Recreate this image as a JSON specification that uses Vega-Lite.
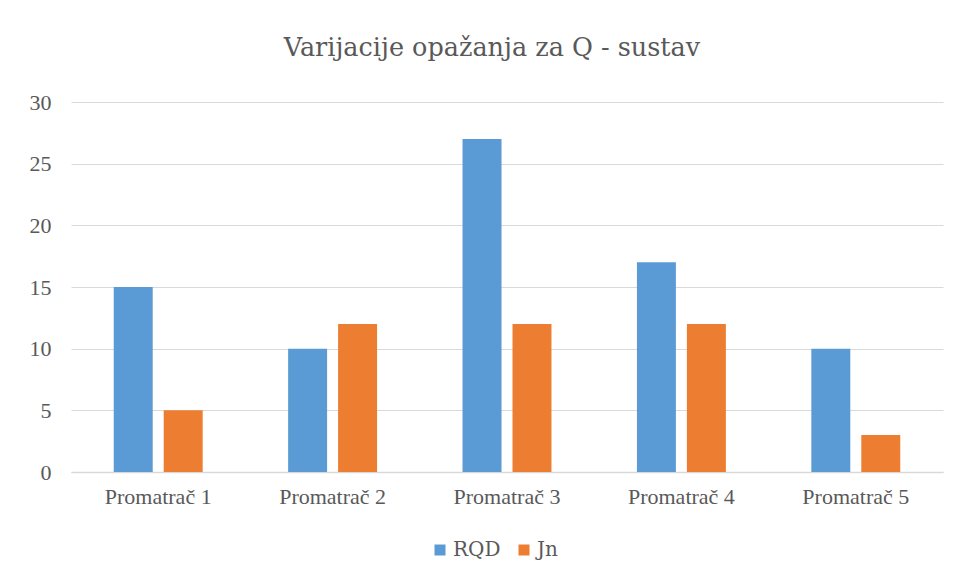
{
  "$schema": "https://vega.github.io/schema/vega-lite/v6.json",
  "width": 872,
  "height": 370,
  "autosize": {"type": "none"},
  "padding": {"left": 71, "top": 102, "right": 14, "bottom": 110},
  "background": "white",
  "title": {
    "text": "Varijacije  opažanja za Q - sustav",
    "font": "DejaVu Serif",
    "fontSize": 25.5,
    "fontWeight": "normal",
    "color": "#595959",
    "anchor": "middle",
    "frame": "group",
    "dx": -15,
    "offset": 30
  },
  "data": {
    "values": [
      {"obs": "Promatrač 1", "series": "RQD", "value": 15},
      {"obs": "Promatrač 1", "series": "Jn", "value": 5},
      {"obs": "Promatrač 2", "series": "RQD", "value": 10},
      {"obs": "Promatrač 2", "series": "Jn", "value": 12},
      {"obs": "Promatrač 3", "series": "RQD", "value": 27},
      {"obs": "Promatrač 3", "series": "Jn", "value": 12},
      {"obs": "Promatrač 4", "series": "RQD", "value": 17},
      {"obs": "Promatrač 4", "series": "Jn", "value": 12},
      {"obs": "Promatrač 5", "series": "RQD", "value": 10},
      {"obs": "Promatrač 5", "series": "Jn", "value": 3}
    ]
  },
  "mark": {"type": "bar"},
  "encoding": {
    "x": {
      "field": "obs",
      "type": "nominal",
      "sort": null,
      "scale": {"paddingInner": 0.49, "paddingOuter": 0.245},
      "axis": {
        "title": null,
        "labelAngle": 0,
        "labelFont": "Liberation Serif",
        "labelFontSize": 22,
        "labelColor": "#595959",
        "labelPadding": 14,
        "ticks": false,
        "domainColor": "#D9D9D9",
        "domainWidth": 1.5
      }
    },
    "xOffset": {
      "field": "series",
      "type": "nominal",
      "sort": ["RQD", "Jn"],
      "scale": {"paddingInner": 0.22, "paddingOuter": 0}
    },
    "y": {
      "field": "value",
      "type": "quantitative",
      "scale": {"domain": [0, 30]},
      "axis": {
        "title": null,
        "values": [0, 5, 10, 15, 20, 25, 30],
        "labelFont": "Liberation Serif",
        "labelFontSize": 22,
        "labelColor": "#595959",
        "labelPadding": 20,
        "ticks": false,
        "domain": false,
        "gridColor": "#D9D9D9",
        "gridWidth": 1
      }
    },
    "color": {
      "field": "series",
      "type": "nominal",
      "scale": {"domain": ["RQD", "Jn"], "range": ["#5B9BD5", "#ED7D31"]},
      "legend": {
        "title": null,
        "orient": "none",
        "direction": "horizontal",
        "legendX": 359,
        "legendY": 438,
        "symbolType": "square",
        "symbolSize": 121,
        "symbolStrokeWidth": 0,
        "labelFont": "DejaVu Serif",
        "labelFontSize": 20,
        "labelColor": "#595959",
        "labelOffset": 3,
        "columnPadding": 13
      }
    }
  },
  "config": {
    "view": {"stroke": null}
  }
}
